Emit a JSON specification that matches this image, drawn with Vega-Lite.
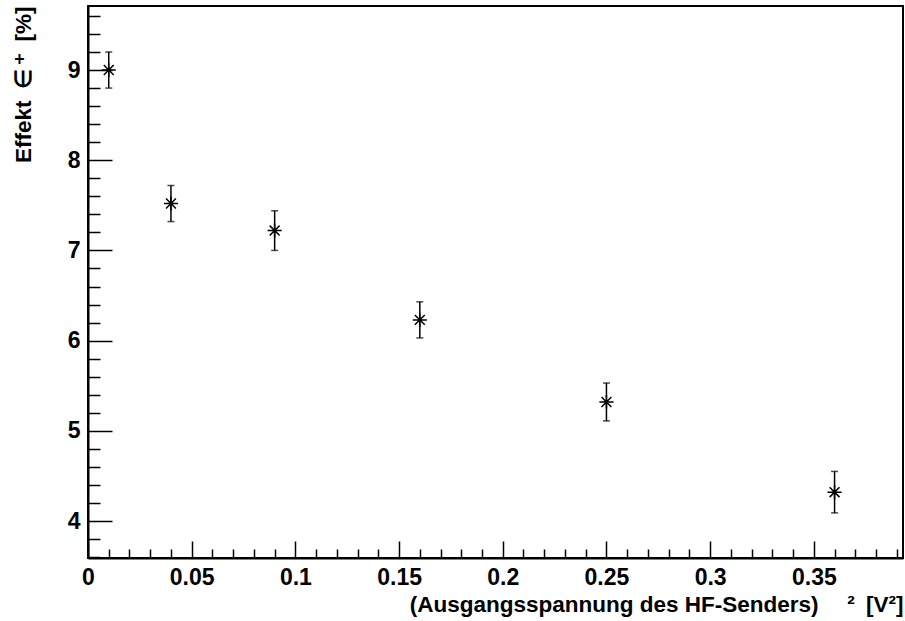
{
  "$schema": "https://vega.github.io/schema/vega-lite/v6.json",
  "width": 815,
  "height": 552,
  "autosize": {"type": "none"},
  "padding": {"left": 88, "top": 6, "right": 2, "bottom": 63},
  "background": "white",
  "config": {
    "font": "Liberation Sans",
    "view": {"stroke": "black", "strokeWidth": 2},
    "axis": {
      "domainColor": "black",
      "domainWidth": 2,
      "tickColor": "black",
      "tickWidth": 1.5,
      "grid": false,
      "labelFont": "Liberation Sans",
      "labelFontSize": 23,
      "labelFontWeight": "bold",
      "labelColor": "black",
      "titleFont": "Liberation Sans",
      "titleFontSize": 22.5,
      "titleFontWeight": "bold",
      "titleColor": "black"
    }
  },
  "data": {
    "values": [
      {"u2": 0.01, "effekt": 9.0, "fehler": 0.2},
      {"u2": 0.04, "effekt": 7.52, "fehler": 0.2},
      {"u2": 0.09, "effekt": 7.22, "fehler": 0.22},
      {"u2": 0.16, "effekt": 6.23, "fehler": 0.2},
      {"u2": 0.25, "effekt": 5.32, "fehler": 0.21},
      {"u2": 0.36, "effekt": 4.32, "fehler": 0.23}
    ]
  },
  "layer": [
    {
      "mark": {
        "type": "errorbar",
        "ticks": {"size": 7, "thickness": 1.5, "color": "black"},
        "rule": {"strokeWidth": 1.5, "color": "black"}
      },
      "encoding": {
        "x": {
          "field": "u2",
          "type": "quantitative",
          "scale": {"domain": [0, 0.393], "nice": false, "zero": false},
          "axis": {
            "orient": "bottom",
            "values": [0, 0.05, 0.1, 0.15, 0.2, 0.25, 0.3, 0.35],
            "format": "~g",
            "tickSize": -17,
            "labelPadding": 25,
            "labelFlush": false,
            "title": "(Ausgangsspannung des HF-Senders)\u2002\u2002 ²\u2002[V²]",
            "titleAnchor": "end",
            "titlePadding": 4
          }
        },
        "y": {
          "field": "effekt",
          "type": "quantitative",
          "scale": {"domain": [3.59, 9.71], "nice": false, "zero": false},
          "axis": {
            "orient": "left",
            "values": [4, 5, 6, 7, 8, 9],
            "tickSize": -24,
            "labelPadding": 32,
            "labelFlush": false,
            "title": "Effekt\u2002∈\u2009⁺\u2002[%]",
            "titleAnchor": "end",
            "titlePadding": 32
          }
        },
        "yError": {"field": "fehler"}
      }
    },
    {
      "mark": {
        "type": "point",
        "shape": "M-1,0L1,0M0,-1L0,1M-0.7,-0.7L0.7,0.7M-0.7,0.7L0.7,-0.7",
        "size": 200,
        "filled": false,
        "stroke": "black",
        "strokeWidth": 1.5,
        "opacity": 1
      },
      "encoding": {
        "x": {
          "field": "u2",
          "type": "quantitative",
          "scale": {"domain": [0, 0.393], "nice": false, "zero": false},
          "axis": {
            "orient": "bottom",
            "values": [0.01, 0.02, 0.03, 0.04, 0.06, 0.07, 0.08, 0.09, 0.11, 0.12, 0.13, 0.14, 0.16, 0.17, 0.18, 0.19, 0.21, 0.22, 0.23, 0.24, 0.26, 0.27, 0.28, 0.29, 0.31, 0.32, 0.33, 0.34, 0.36, 0.37, 0.38, 0.39],
            "tickSize": -9,
            "labels": false,
            "domain": false,
            "title": null
          }
        },
        "y": {
          "field": "effekt",
          "type": "quantitative",
          "scale": {"domain": [3.59, 9.71], "nice": false, "zero": false},
          "axis": {
            "orient": "left",
            "values": [3.6, 3.8, 4.2, 4.4, 4.6, 4.8, 5.2, 5.4, 5.6, 5.8, 6.2, 6.4, 6.6, 6.8, 7.2, 7.4, 7.6, 7.8, 8.2, 8.4, 8.6, 8.8, 9.2, 9.4, 9.6],
            "tickSize": -12,
            "labels": false,
            "domain": false,
            "title": null
          }
        }
      }
    }
  ],
  "resolve": {"axis": {"x": "independent", "y": "independent"}}
}
